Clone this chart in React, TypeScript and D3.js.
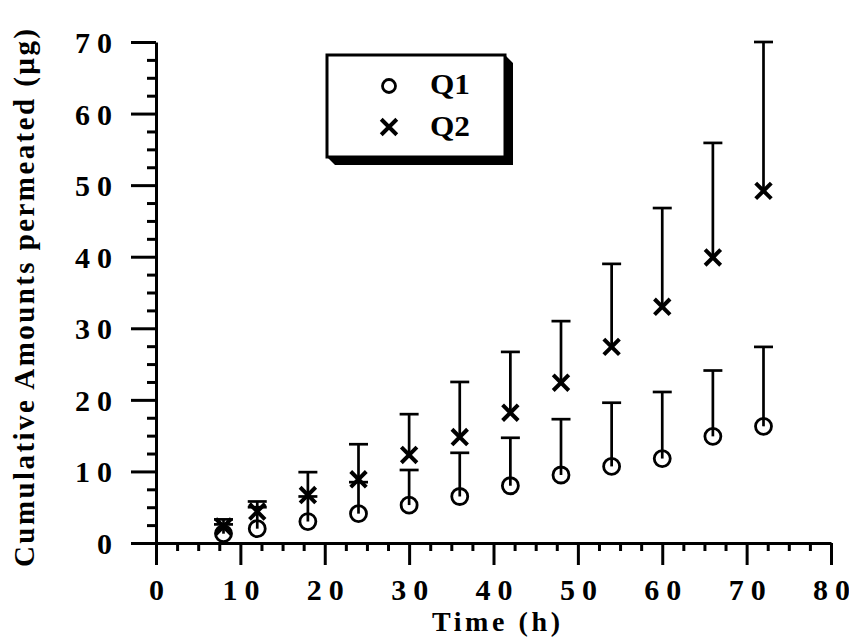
import React, { useEffect, useRef } from "react";
import * as d3 from "d3";

// sampling times (h)
const times = [8, 12, 18, 24, 30, 36, 42, 48, 54, 60, 66, 72];
// Q1 means and upper error bar ends
const q1Mean = [1.3, 2.0, 3.0, 4.1, 5.3, 6.5, 8.0, 9.5, 10.7, 11.8, 14.9, 16.3];
const q1Upper = [2.6, 5.0, 6.5, 8.5, 10.2, 12.6, 14.7, 17.3, 19.6, 21.1, 24.1, 27.4];
// Q2 means and upper error bar ends
const q2Mean = [2.3, 4.4, 6.7, 8.9, 12.3, 14.8, 18.2, 22.4, 27.4, 33.0, 39.9, 49.2];
const q2Upper = [3.3, 5.8, 9.9, 13.8, 18.0, 22.5, 26.7, 31.0, 39.0, 46.8, 55.9, 70.0];

const xTicks = [0, 10, 20, 30, 40, 50, 60, 70, 80];
const yTicks = [0, 10, 20, 30, 40, 50, 60, 70];

const FONT = '"Liberation Serif", "Times New Roman", serif';

function App() {
  const svgRef = useRef(null);
  const width = 849;
  const height = 637;

  const x = d3.scaleLinear().domain([0, 80]).range([156, 831]);
  const y = d3.scaleLinear().domain([0, 70]).range([543, 42]);

  useEffect(() => {
    const svg = d3.select(svgRef.current);
    svg.selectAll("*").remove();

    const minorX = d3.range(0, 80.01, 2.5).filter(v => v % 10 !== 0);
    const minorY = d3.range(0, 70.01, 2.5).filter(v => v % 10 !== 0);

    // minor ticks
    svg.append("g")
      .attr("transform", `translate(0,${y(0)})`)
      .call(d3.axisBottom(x).tickValues(minorX).tickSize(8).tickFormat(() => ""))
      .call(g => g.select(".domain").remove());
    svg.append("g")
      .attr("transform", `translate(${x(0)},0)`)
      .call(d3.axisLeft(y).tickValues(minorY).tickSize(9).tickFormat(() => ""))
      .call(g => g.select(".domain").remove());

    // major x axis
    const gx = svg.append("g")
      .attr("transform", `translate(0,${y(0)})`)
      .call(d3.axisBottom(x).tickValues(xTicks).tickSize(22).tickSizeOuter(0).tickPadding(14).tickFormat(d3.format("d")));
    gx.selectAll("text").attr("dy", "0.71em");

    // major y axis
    const gy = svg.append("g")
      .attr("transform", `translate(${x(0)},0)`)
      .call(d3.axisLeft(y).tickValues(yTicks).tickSize(25).tickSizeOuter(0).tickPadding(19).tickFormat(d3.format("d")));
    gy.selectAll("text").attr("dy", "0.35em");

    svg.selectAll(".tick line").attr("stroke", "#000").attr("stroke-width", 3);
    svg.selectAll(".domain").attr("stroke", "#000").attr("stroke-width", 3);
    svg.selectAll(".tick text")
      .attr("fill", "#000")
      .attr("font-family", FONT)
      .attr("font-weight", "bold")
      .attr("font-size", 30)
      .each(function (d) {
        // spread two-digit labels like the original
        if (String(d).length > 1) {
          d3.select(this).attr("textLength", 37).attr("lengthAdjust", "spacing");
        }
      });

    // error bars (upper only)
    const bars = (means, uppers) => {
      const g = svg.append("g").attr("stroke", "#000").attr("stroke-width", 2.7);
      g.selectAll("line.v")
        .data(times)
        .enter()
        .append("line")
        .attr("x1", d => x(d))
        .attr("x2", d => x(d))
        .attr("y1", (d, i) => y(means[i]))
        .attr("y2", (d, i) => y(uppers[i]));
      g.selectAll("line.c")
        .data(times)
        .enter()
        .append("line")
        .attr("x1", d => x(d) - 9.5)
        .attr("x2", d => x(d) + 9.5)
        .attr("y1", (d, i) => y(uppers[i]))
        .attr("y2", (d, i) => y(uppers[i]));
    };
    bars(q1Mean, q1Upper);
    bars(q2Mean, q2Upper);

    // Q1 circles
    svg.append("g")
      .selectAll("circle")
      .data(times)
      .enter()
      .append("circle")
      .attr("cx", d => x(d))
      .attr("cy", (d, i) => y(q1Mean[i]))
      .attr("r", 8)
      .attr("fill", "none")
      .attr("stroke", "#000")
      .attr("stroke-width", 2.8);

    // Q2 crosses
    const cross = d3.symbol().type(d3.symbolX).size(160);
    svg.append("g")
      .selectAll("path")
      .data(times)
      .enter()
      .append("path")
      .attr("transform", (d, i) => `translate(${x(d)},${y(q2Mean[i])})`)
      .attr("d", cross)
      .attr("fill", "none")
      .attr("stroke", "#000")
      .attr("stroke-width", 4);

    // legend
    const lg = svg.append("g");
    lg.append("polygon")
      .attr("points", "505,55 513,63 513,165 335,165 327,157 505,157")
      .attr("fill", "#000");
    lg.append("rect")
      .attr("x", 327).attr("y", 55).attr("width", 178).attr("height", 102)
      .attr("fill", "#fff").attr("stroke", "#000").attr("stroke-width", 3);
    lg.append("circle")
      .attr("cx", 389).attr("cy", 86).attr("r", 6.5)
      .attr("fill", "none").attr("stroke", "#000").attr("stroke-width", 2.8);
    lg.append("path")
      .attr("transform", "translate(389,127)")
      .attr("d", cross)
      .attr("fill", "none").attr("stroke", "#000").attr("stroke-width", 4);
    [["Q1", 94], ["Q2", 136]].forEach(([t, by]) => {
      lg.append("text")
        .attr("x", 430).attr("y", by)
        .attr("font-family", FONT).attr("font-weight", "bold").attr("font-size", 30)
        .attr("textLength", 40)
        .attr("lengthAdjust", "spacingAndGlyphs")
        .text(t);
    });

    // axis titles
    svg.append("text")
      .attr("x", 496).attr("y", 631)
      .attr("text-anchor", "middle")
      .attr("font-family", FONT).attr("font-weight", "bold").attr("font-size", 28)
      .attr("textLength", 128)
      .attr("lengthAdjust", "spacing")
      .text("Time (h)");

    svg.append("text")
      .attr("transform", "translate(34,298) rotate(-90)")
      .attr("text-anchor", "middle")
      .attr("font-family", FONT).attr("font-weight", "bold").attr("font-size", 29)
      .attr("textLength", 538)
      .attr("lengthAdjust", "spacing")
      .text("Cumulative Amounts permeated (µg)");
  }, []);

  return (
    <svg
      ref={svgRef}
      width={width}
      height={height}
      style={{ position: "absolute", left: 0, top: 0, background: "#fff" }}
    />
  );
}

export default App;
